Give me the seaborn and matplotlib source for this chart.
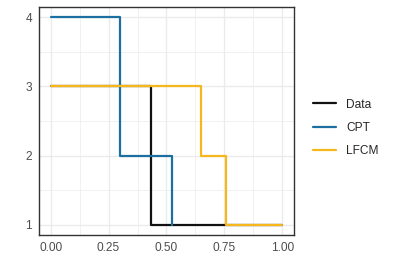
import numpy as np
import pandas as pd
import matplotlib
matplotlib.use("Agg")
import matplotlib.pyplot as plt
import seaborn as sns
from matplotlib.ticker import MultipleLocator
from matplotlib.lines import Line2D

# data
data_x = [0.0, 0.434, 1.0]
data_y = [3, 1, 1]
cpt_x = [0.0, 0.300, 0.524]
cpt_y = [4, 2, 1]
lfcm_x = [0.0, 0.650, 0.757, 1.0]
lfcm_y = [3, 2, 1, 1]
series_names = ["Data", "CPT", "LFCM"]
colors = ["#111111", "#1B70A0", "#F5B71B"]

frames = []
for name, xs, ys in zip(series_names, [data_x, cpt_x, lfcm_x], [data_y, cpt_y, lfcm_y]):
    frames.append(pd.DataFrame({"x": xs, "y": ys, "model": name}))
df = pd.concat(frames, ignore_index=True)

sns.set_style("white")
plt.rcParams['font.family'] = ['Liberation Sans', 'DejaVu Sans']

fig = plt.figure(figsize=(3.93, 2.80), dpi=100)
ax = fig.add_axes([39/393, 1 - 235/280, (294-39)/393, (235-7)/280])

for name, col in zip(series_names, colors):
    sub = df[df.model == name]
    sns.lineplot(data=sub, x="x", y="y", drawstyle="steps-post", color=col,
                 linewidth=1.6, ax=ax, legend=False, zorder=3, estimator=None, sort=False)

ax.set_xlim(-0.05, 1.05)
ax.set_ylim(0.85, 4.15)
ax.xaxis.set_major_locator(MultipleLocator(0.25))
ax.xaxis.set_minor_locator(MultipleLocator(0.125))
ax.yaxis.set_major_locator(MultipleLocator(1))
ax.yaxis.set_minor_locator(MultipleLocator(0.5))
ax.set_xticks([0, 0.25, 0.5, 0.75, 1.0])
ax.set_xticklabels(["0.00", "0.25", "0.50", "0.75", "1.00"])
ax.set_yticks([1, 2, 3, 4])
ax.set_yticklabels(["1", "2", "3", "4"])
ax.grid(which="major", color="#EBEBEB", linewidth=1.0, zorder=0)
ax.grid(which="minor", color="#EBEBEB", linewidth=0.5, zorder=0)
ax.set_axisbelow(True)
for s in ax.spines.values():
    s.set_color("#333333")
    s.set_linewidth(1.0)
ax.tick_params(axis="both", which="major", length=3, width=0.8, color="#333333",
               labelsize=8.6, labelcolor="#4D4D4D", pad=2, direction="out")
ax.tick_params(axis="both", which="minor", length=0)
ax.set_xlabel("")
ax.set_ylabel("")

handles = [Line2D([0], [0], color=c, linewidth=1.6) for c in colors]
fig.legend(handles, series_names, loc="center left", bbox_to_anchor=(313/393, 1 - 128/280),
           frameon=False, fontsize=8.6, handlelength=1.9, handletextpad=0.9,
           labelspacing=0.95, borderaxespad=0, borderpad=0)

fig.savefig("out.png", dpi=100)
